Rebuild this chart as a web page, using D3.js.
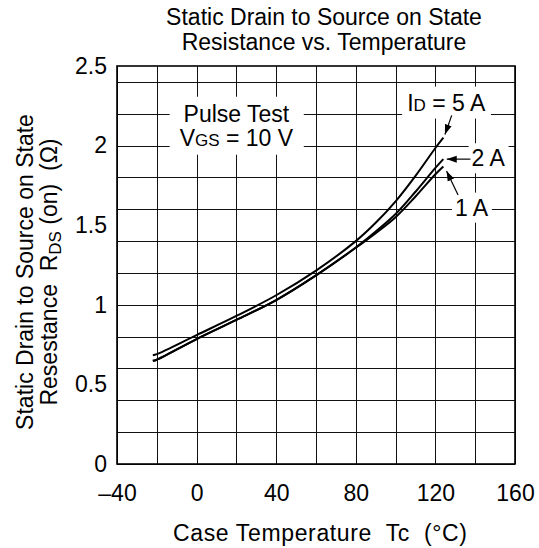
<!DOCTYPE html>
<html>
<head>
<meta charset="utf-8">
<script src="https://cdn.jsdelivr.net/npm/d3@7"></script>
<style>
  body { margin: 0; background: #fff; }
  text { font-family: "Liberation Sans", Arial, sans-serif; fill: #000; }
</style>
</head>
<body>
<script>
// chart values
const xTicks = [-40, 0, 40, 80, 120, 160];
const yTicks = [0, 0.5, 1, 1.5, 2, 2.5];

// case temperature (°C)
const temps = [-22, -20, 0, 20, 40, 60, 80, 90, 100, 110, 120, 124];
// RDS(on) for each drain current
const rds5A = [0.683, 0.69, 0.81, 0.93, 1.06, 1.215, 1.40, 1.515, 1.65, 1.81, 1.985, 2.05];
const rds2A = [0.648, 0.655, 0.785, 0.905, 1.03, 1.185, 1.36, 1.46, 1.57, 1.71, 1.86, 1.915];
const rds1A = [0.648, 0.655, 0.785, 0.905, 1.03, 1.185, 1.358, 1.45, 1.55, 1.68, 1.82, 1.868];

const W = 539, H = 548;
const plot = { left: 117, right: 515, top: 66, bottom: 464 };
const fs = 23;

const x = d3.scaleLinear().domain([-40, 160]).range([plot.left, plot.right]);
const y = d3.scaleLinear().domain([0, 2.5]).range([plot.bottom, plot.top]);

const svg = d3.select("body").append("svg")
  .attr("width", W)
  .attr("height", H);

// grid
const grid = svg.append("g").attr("stroke", "#111").attr("stroke-width", 1);
grid.selectAll(".gx").data(x.ticks(10)).enter().append("line")
  .attr("x1", d => Math.round(x(d)) + 0.5).attr("x2", d => Math.round(x(d)) + 0.5)
  .attr("y1", plot.top).attr("y2", plot.bottom);
grid.selectAll(".gy").data(y.ticks(10)).enter().append("line")
  .attr("y1", d => Math.round(y(d)) + 0.5).attr("y2", d => Math.round(y(d)) + 0.5)
  .attr("x1", plot.left).attr("x2", plot.right);

// annotation layer goes above grid, below curves
const notes = svg.append("g");

svg.append("rect")
  .attr("x", plot.left).attr("y", plot.top)
  .attr("width", plot.right - plot.left).attr("height", plot.bottom - plot.top)
  .attr("fill", "none").attr("stroke", "#000").attr("stroke-width", 1.6);

// curves
const line = d3.line()
  .x((d, i) => x(temps[i]))
  .y(d => y(d))
  .curve(d3.curveCatmullRom.alpha(0.5));

[rds5A, rds2A, rds1A].forEach(s => {
  svg.append("path")
    .datum(s)
    .attr("fill", "none")
    .attr("stroke", "#000")
    .attr("stroke-width", 2)
    .attr("d", line);
});

// axes
const xAxis = svg.append("g")
  .attr("transform", `translate(0, ${plot.bottom})`)
  .call(d3.axisBottom(x).tickValues(xTicks).tickSize(0).tickPadding(21)
    .tickFormat(d => d < 0 ? "\u2013" + Math.abs(d) : d));
const yAxis = svg.append("g")
  .attr("transform", `translate(${plot.left}, 0)`)
  .call(d3.axisLeft(y).tickValues(yTicks).tickSize(0).tickPadding(10)
    .tickFormat(d => String(d)));
[xAxis, yAxis].forEach(a => {
  a.select(".domain").remove();
  a.selectAll("text").style("font-size", fs + "px").style("font-family", "'Liberation Sans', Arial, sans-serif").attr("fill", "#000");
});

// title
const title = svg.append("text").attr("text-anchor", "middle").style("font-size", fs + "px");
title.append("tspan").attr("x", 324).attr("y", 25).text("Static Drain to Source on State");
title.append("tspan").attr("x", 324).attr("y", 50).text("Resistance vs. Temperature");

// x label
svg.append("text")
  .attr("x", 320).attr("y", 541)
  .attr("text-anchor", "middle")
  .attr("textLength", 294)
  .attr("lengthAdjust", "spacing")
  .style("font-size", fs + "px")
  .style("white-space", "pre")
  .text("Case Temperature  Tc  (\u00b0C)");

// y label
const yl = svg.append("g").attr("transform", "translate(0, 272) rotate(-90)");
yl.append("text").attr("x", 0).attr("y", 33).attr("text-anchor", "middle")
  .style("font-size", fs + "px").text("Static Drain to Source on State");
const yl2 = yl.append("text").attr("x", 0).attr("y", 57).attr("text-anchor", "middle")
  .style("font-size", fs + "px").style("white-space", "pre");
yl2.append("tspan").text("Resestance  R");
yl2.append("tspan").attr("dy", 4).style("font-size", "17px").text("DS");
yl2.append("tspan").attr("dy", -4).text(" (on)  (\u03a9)");

// annotations with white boxes
function boxed(el, padX, padY) {
  const b = el.node().getBBox();
  notes.insert("rect", ":first-child")
    .attr("x", b.x - padX).attr("y", b.y - padY)
    .attr("width", b.width + 2 * padX).attr("height", b.height + 2 * padY)
    .attr("fill", "#fff");
}

const pulse = notes.append("text").attr("text-anchor", "middle").style("font-size", fs + "px");
pulse.append("tspan").attr("x", x(20)).attr("y", y(2.15)).text("Pulse Test");
const vgs = pulse.append("tspan").attr("x", x(20)).attr("dy", 24);
vgs.text("V");
pulse.append("tspan").style("font-size", "17px").text("GS");
pulse.append("tspan").text(" = 10 V");
boxed(pulse, 10, 4);

const id5 = notes.append("text").attr("x", x(105.8)).attr("y", y(2.22)).style("font-size", fs + "px");
id5.append("tspan").text("I");
id5.append("tspan").style("font-size", "17px").text("D");
id5.append("tspan").text(" = 5 A");
boxed(id5, 5, 3);

const id2 = notes.append("text").attr("x", x(138.2)).attr("y", y(1.87)).style("font-size", fs + "px").text("2 A");
boxed(id2, 3, 2);
const id1 = notes.append("text").attr("x", x(129.8)).attr("y", y(1.56)).style("font-size", fs + "px").text("1 A");
boxed(id1, 3, 2);

// arrows
svg.append("defs").append("marker")
  .attr("id", "head")
  .attr("viewBox", "0 0 10 10")
  .attr("refX", 10).attr("refY", 5)
  .attr("markerWidth", 10).attr("markerHeight", 10)
  .attr("markerUnits", "userSpaceOnUse")
  .attr("orient", "auto")
  .append("path").attr("d", "M0,1.5 L10,5 L0,8.5 Z").attr("fill", "#000");

const arrows = [
  { from: [128.2, 2.19], to: [124.8, 2.07] },
  { from: [137.6, 1.915], to: [125.7, 1.915] },
  { from: [131.4, 1.69], to: [125.6, 1.84] }
];
svg.selectAll(".arrow").data(arrows).enter().append("line")
  .attr("x1", d => x(d.from[0])).attr("y1", d => y(d.from[1]))
  .attr("x2", d => x(d.to[0])).attr("y2", d => y(d.to[1]))
  .attr("stroke", "#000").attr("stroke-width", 1.2)
  .attr("marker-end", "url(#head)");
</script>
</body>
</html>
